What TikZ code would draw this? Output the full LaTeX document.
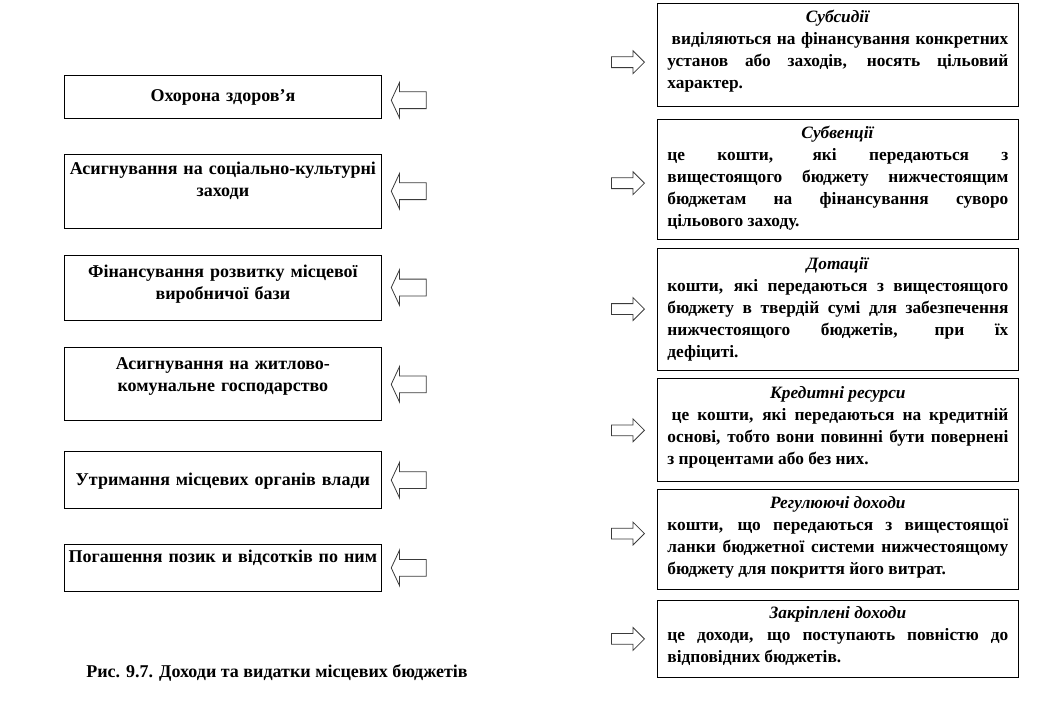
\documentclass[tikz,border=0pt]{standalone}
\usepackage{fontspec}
\setmainfont{Liberation Serif}
\usetikzlibrary{positioning,shapes.arrows}
\definecolor{cEdge}{HTML}{000000}
\definecolor{cArrow}{HTML}{3A3A3A}
\newcommand{\boxtitle}[1]{{\centering\textit{#1}\par}}
\newcommand{\tightspaces}{\spaceskip=.25em plus .5em minus .15em\relax}

\begin{document}
\begin{tikzpicture}[
  font=\fontsize{13.5pt}{16.5pt}\selectfont\bfseries,
  lbox/.style 2 args={draw=cEdge, line width=0.6pt, align=center,
              inner xsep=2pt, inner ysep=0pt, text width=233.75pt,
              text height=#1, text depth=#2},
  rbox/.style 2 args={draw=cEdge, line width=0.6pt, align=justify,
              font=\fontsize{13pt}{16.5pt}\selectfont\bfseries,
              inner xsep=7.5pt, inner ysep=0pt, text width=255.75pt,
              text height=#1, text depth=#2, execute at begin node=\tightspaces},
  larrow/.style={single arrow, draw=cArrow, line width=0.6pt, inner xsep=0pt, inner ysep=6pt,
              shape border rotate=180, minimum height=26.25pt,
              single arrow head extend=7.125pt, single arrow tip angle=130},
  rarrow/.style={single arrow, draw=cArrow, line width=0.6pt, inner xsep=0pt, inner ysep=3.75pt,
              minimum height=24.75pt,
              single arrow head extend=4.5pt, single arrow tip angle=90},
]
\useasboundingbox (0,0) rectangle (783.75pt,-544.5pt);

% ---- left column: expenditures ----
\node[lbox={19.5pt}{12.75pt}, anchor=north west] (exp1) at (48pt,-56.25pt)
  {Охорона здоров’я};
\node[lbox={15pt}{40.5pt}, below=26.25pt of exp1] (exp2)
  {Асигнування на соціально-культурні\\ заходи};
\node[lbox={16.5pt}{32.25pt}, below=19.5pt of exp2] (exp3)
  {Фінансування розвитку місцевої\\ виробничої бази};
\node[lbox={16.5pt}{38.25pt}, below=20.25pt of exp3] (exp4)
  {Асигнування на житлово-\\ комунальне господарство};
\node[lbox={25.5pt}{17.25pt}, below=22.5pt of exp4] (exp5)
  {Утримання місцевих органів влади};
\node[lbox={13.5pt}{21.75pt}, below=26.25pt of exp5] (exp6)
  {Погашення позик и відсотків по ним};

\node[larrow, right=6.75pt of exp1, yshift=-2.5pt] (ea1) {};
\node[larrow, right=6.75pt of exp2] (ea2) {};
\node[larrow, right=6.75pt of exp3] (ea3) {};
\node[larrow, right=6.75pt of exp4] (ea4) {};
\node[larrow, right=6.75pt of exp5] (ea5) {};
\node[larrow, right=6.75pt of exp6] (ea6) {};

% ---- right column: revenues ----
\node[rbox={14.25pt}{63pt}, anchor=north west] (inc1) at (492.75pt,-2.25pt)
  {\boxtitle{Субсидії}
   \hspace*{.25em}виділяються на фінансування конкретних\linebreak
   установ або заходів, носять цільовий\linebreak характер.};
\node[rbox={14.25pt}{75.75pt}, below=9pt of inc1] (inc2)
  {\boxtitle{Субвенції}
   це кошти, які передаються з\linebreak
   вищестоящого бюджету нижчестоящим\linebreak
   бюджетам на фінансування суворо\linebreak
   цільового заходу.};
\node[rbox={15.75pt}{75.75pt}, below=6pt of inc2] (inc3)
  {\boxtitle{Дотації}
   кошти, які передаються з вищестоящого\linebreak
   бюджету в твердій сумі для забезпечення\linebreak
   нижчестоящого бюджетів, при їх\linebreak
   дефіциті.};
\node[rbox={15pt}{62.25pt}, below=6pt of inc3] (inc4)
  {\boxtitle{Кредитні ресурси}
   \hspace*{.25em}це кошти, які передаються на кредитній\linebreak
   основі, тобто вони повинні бути повернені\linebreak
   з процентами або без них.};
\node[rbox={14.25pt}{60.75pt}, below=5.25pt of inc4] (inc5)
  {\boxtitle{Регулюючі доходи}
   кошти, що передаються з вищестоящої\linebreak
   ланки бюджетної системи нижчестоящому\linebreak
   бюджету для покриття його витрат.};
\node[rbox={13.5pt}{44.25pt}, below=7.5pt of inc5] (inc6)
  {\boxtitle{Закріплені доходи}
   це доходи, що поступають повністю до\linebreak
   відповідних бюджетів.};

\node[rarrow, left=9pt of inc1, yshift=-5.5pt] (ia1) {};
\node[rarrow, left=9pt of inc2, yshift=-3pt] (ia2) {};
\node[rarrow, left=9pt of inc3] (ia3) {};
\node[rarrow, left=9pt of inc4] (ia4) {};
\node[rarrow, left=9pt of inc5, yshift=4.5pt] (ia5) {};
\node[rarrow, left=9pt of inc6] (ia6) {};

% ---- caption ----
\node (cap) at (207.75pt,-504.75pt) {Рис. 9.7. Доходи та видатки місцевих бюджетів};
\end{tikzpicture}
\end{document}
